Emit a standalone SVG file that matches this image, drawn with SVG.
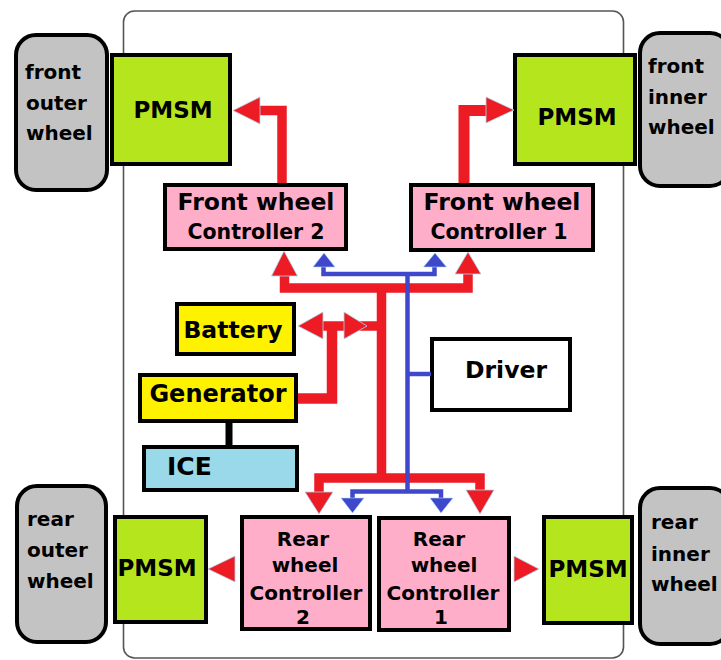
<svg xmlns="http://www.w3.org/2000/svg" width="721" height="660" viewBox="0 0 721 660">
<style>
text{font-family:"DejaVu Sans","Liberation Sans",sans-serif;font-weight:bold;fill:#000}
.box{stroke:#000;stroke-width:4}
.wheel{fill:#c3c3c3;stroke:#000;stroke-width:4}
.pmsm{fill:#b5e61d}
.ctrl{fill:#ffaec9}
.yel{fill:#fff200}
.red{fill:none;stroke:#ed1c24;stroke-width:9.5}
.redh{fill:#ed1c24;stroke:#a8dcee;stroke-width:0.8}
.blue{fill:none;stroke:#3f48cc;stroke-width:4.5}
.blueh{fill:#3f48cc;stroke:#a8dcee;stroke-width:0.6}
.c{text-anchor:middle}
</style>
<rect width="721" height="660" fill="#fff"/>
<rect id="frame" x="123.5" y="11" width="500" height="647" rx="11" fill="none" stroke="#555" stroke-width="1.6"/>

<g id="front_outer_wheel">
<rect class="wheel" x="16" y="35" width="91" height="155" rx="20"/>
<text x="25" y="79" font-size="20">front</text>
<text x="26" y="110" font-size="20">outer</text>
<text x="26" y="140" font-size="20">wheel</text>
</g>
<g id="front_inner_wheel">
<rect class="wheel" x="640" y="33" width="90" height="153" rx="20"/>
<text x="648" y="73" font-size="20">front</text>
<text x="648" y="104" font-size="20">inner</text>
<text x="648" y="134" font-size="20">wheel</text>
</g>
<g id="rear_outer_wheel">
<rect class="wheel" x="17" y="486" width="89" height="156" rx="20"/>
<text x="27" y="526" font-size="20">rear</text>
<text x="27" y="557" font-size="20">outer</text>
<text x="27" y="588" font-size="20">wheel</text>
</g>
<g id="rear_inner_wheel">
<rect class="wheel" x="640" y="488" width="90" height="156" rx="20"/>
<text x="651" y="529" font-size="20">rear</text>
<text x="651" y="561" font-size="20">inner</text>
<text x="651" y="591" font-size="20">wheel</text>
</g>

<g id="pmsm_front_left">
<rect class="box pmsm" x="112" y="55" width="118" height="109"/>
<text class="c" x="173" y="118" font-size="23">PMSM</text>
</g>
<g id="pmsm_front_right">
<rect class="box pmsm" x="515" y="55" width="120" height="109"/>
<text class="c" x="577" y="125" font-size="23">PMSM</text>
</g>
<g id="pmsm_rear_left">
<rect class="box pmsm" x="115" y="517" width="91" height="105"/>
<text class="c" x="157" y="576" font-size="23">PMSM</text>
</g>
<g id="pmsm_rear_right">
<rect class="box pmsm" x="544" y="517" width="88" height="106"/>
<text class="c" x="588" y="577" font-size="23">PMSM</text>
</g>

<g id="front_controller_2">
<rect class="box ctrl" x="165" y="185" width="181" height="64"/>
<text class="c" x="256" y="210" font-size="23.5">Front wheel</text>
<text class="c" x="256" y="239" font-size="20.5">Controller 2</text>
</g>
<g id="front_controller_1">
<rect class="box ctrl" x="411" y="185" width="182" height="65"/>
<text class="c" x="502" y="210" font-size="23.5">Front wheel</text>
<text class="c" x="499" y="239" font-size="20.5">Controller 1</text>
</g>
<g id="rear_controller_2">
<rect class="box ctrl" x="242" y="517" width="128" height="112"/>
<text class="c" x="303" y="546" font-size="20">Rear</text>
<text class="c" x="305" y="572" font-size="20">wheel</text>
<text class="c" x="306" y="600" font-size="20">Controller</text>
<text class="c" x="303" y="624" font-size="20">2</text>
</g>
<g id="rear_controller_1">
<rect class="box ctrl" x="379" y="518" width="130" height="112"/>
<text class="c" x="439" y="546" font-size="20">Rear</text>
<text class="c" x="444" y="572" font-size="20">wheel</text>
<text class="c" x="443" y="600" font-size="20">Controller</text>
<text class="c" x="441" y="624" font-size="20">1</text>
</g>

<g id="battery">
<rect class="box yel" x="177" y="304" width="117" height="50"/>
<text class="c" x="233" y="338" font-size="23.5">Battery</text>
</g>
<g id="generator">
<rect class="box yel" x="140" y="375" width="156" height="46"/>
<text class="c" x="218" y="402" font-size="24">Generator</text>
</g>
<g id="ice">
<rect class="box" fill="#99d9ea" x="144" y="447" width="153" height="43"/>
<text x="167" y="475" font-size="25">ICE</text>
</g>
<g id="driver">
<rect class="box" fill="#fff" x="432" y="339" width="138" height="71"/>
<text class="c" x="506" y="378" font-size="23.5">Driver</text>
</g>

<g id="connectors">
<line x1="229" y1="423" x2="229" y2="445" stroke="#000" stroke-width="7"/>
<path class="red" d="M282,183 V110.5 H259"/>
<polygon class="redh" points="233,110.5 260,97 260,124"/>
<path class="red" d="M464,183 V110.5 H488" style="stroke-width:11"/>
<polygon class="redh" points="514,110 486,97 486,123"/>
<path class="red" d="M284.5,276 V288 H468 V273"/>
<polygon class="redh" points="284,251 271.5,276 297.5,276"/>
<polygon class="redh" points="468,252 455,274 481,274"/>
<path class="red" d="M381.5,288 V478"/>
<path class="red" d="M319,493 V478 H480 V491"/>
<polygon class="redh" points="305,492 333,492 319,514"/>
<polygon class="redh" points="466,490 494,490 480,514"/>
<path class="red" d="M322,326 H381"/>
<polygon class="redh" points="298,326 323,312 323,339"/>
<polygon class="redh" points="344,312 344,339 367,326"/>
<path class="red" d="M298,398.5 H332 V326" style="stroke-width:10.5"/>
<polygon class="redh" points="208,569 235,556 235,582"/>
<polygon class="redh" points="514,556 514,582 539,569"/>
<path class="blue" d="M323.5,267 V274 H434.5 V267"/>
<polygon class="blueh" points="324,253 313,267 335,267"/>
<polygon class="blueh" points="435,253 423.5,267 446.5,267"/>
<path class="blue" d="M407.5,274 V492"/>
<path class="blue" d="M407.5,374 H431"/>
<path class="blue" d="M352.5,498 V491.5 H441 V498"/>
<polygon class="blueh" points="341,498 364,498 352.5,513"/>
<polygon class="blueh" points="430,498 453,498 441,513"/>
</g>
</svg>
